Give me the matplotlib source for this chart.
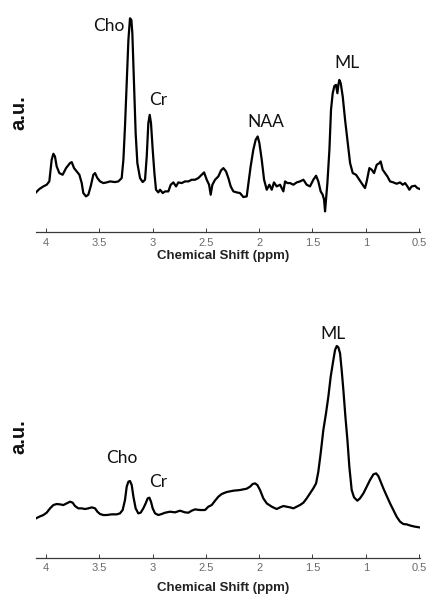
import matplotlib
matplotlib.use("Agg")
import matplotlib.pyplot as plt

# ---- Top spectrum (ppm, a.u.) ----
top_ppm = [4.094, 4.063, 4.025, 3.994, 3.969, 3.947, 3.931, 3.916, 3.900, 3.875,
           3.844, 3.812, 3.775, 3.759, 3.737, 3.712, 3.687, 3.665, 3.650, 3.625,
           3.603, 3.581, 3.556, 3.540, 3.518, 3.493, 3.462, 3.431, 3.399, 3.353,
           3.321, 3.290, 3.274, 3.259, 3.243, 3.227, 3.212, 3.199, 3.190, 3.174,
           3.159, 3.143, 3.118, 3.093, 3.071, 3.055, 3.040, 3.027, 3.015, 2.999,
           2.983, 2.968, 2.946, 2.930, 2.905, 2.883, 2.852, 2.830, 2.805, 2.780,
           2.758, 2.727, 2.696, 2.664, 2.633, 2.602, 2.571, 2.539, 2.517, 2.492,
           2.470, 2.455, 2.439, 2.414, 2.383, 2.358, 2.336, 2.311, 2.289, 2.267,
           2.242, 2.211, 2.180, 2.148, 2.117, 2.101, 2.080, 2.055, 2.033, 2.014,
           1.998, 1.976, 1.954, 1.929, 1.904, 1.882, 1.861, 1.836, 1.804, 1.773,
           1.757, 1.735, 1.710, 1.679, 1.648, 1.617, 1.585, 1.554, 1.523, 1.492,
           1.466, 1.445, 1.423, 1.404, 1.391, 1.382, 1.373, 1.360, 1.341, 1.326,
           1.310, 1.294, 1.279, 1.266, 1.257, 1.248, 1.235, 1.216, 1.194, 1.172,
           1.147, 1.122, 1.091, 1.060, 1.029, 1.007, 0.991, 0.966, 0.944, 0.922,
           0.897, 0.872, 0.860, 0.841, 0.819, 0.797, 0.772, 0.741, 0.710, 0.678,
           0.653, 0.631, 0.609, 0.591, 0.569, 0.537, 0.516, 0.491]
top_au = [0.22, 0.32, 0.40, 0.45, 0.55, 1.20, 1.38, 1.30, 1.00, 0.80,
          0.75, 0.95, 1.10, 1.13, 0.95, 0.85, 0.75, 0.50, 0.20, 0.10,
          0.15, 0.40, 0.75, 0.80, 0.65, 0.55, 0.50, 0.52, 0.55, 0.53,
          0.55, 0.65, 1.20, 2.20, 3.50, 4.80, 5.45, 5.40, 5.00, 3.50,
          2.00, 1.10, 0.65, 0.53, 0.60, 1.30, 2.30, 2.55, 2.30, 1.50,
          0.80, 0.30, 0.22, 0.30, 0.20, 0.25, 0.25, 0.45, 0.52, 0.40,
          0.52, 0.50, 0.55, 0.55, 0.60, 0.60, 0.65, 0.75, 0.82, 0.60,
          0.45, 0.15, 0.45, 0.60, 0.70, 0.88, 0.95, 0.85, 0.65, 0.40,
          0.25, 0.22, 0.20, 0.08, 0.10, 0.50, 1.00, 1.50, 1.80, 1.90,
          1.70, 1.20, 0.60, 0.30, 0.45, 0.30, 0.52, 0.40, 0.45, 0.25,
          0.55, 0.50, 0.50, 0.45, 0.52, 0.55, 0.60, 0.45, 0.40, 0.60,
          0.72, 0.55, 0.25, 0.15, 0.00, -0.35, 0.00, 0.50, 1.50, 2.70,
          3.20, 3.42, 3.45, 3.20, 3.45, 3.60, 3.50, 3.10, 2.40, 1.80,
          1.10, 0.80, 0.75, 0.60, 0.45, 0.35, 0.55, 0.95, 0.90, 0.80,
          1.05, 1.10, 1.15, 0.90, 0.80, 0.70, 0.55, 0.52, 0.48, 0.52,
          0.45, 0.50, 0.40, 0.30, 0.40, 0.42, 0.35, 0.32]

# ---- Bottom spectrum (ppm, a.u.) ----
bot_ppm = [4.094, 4.063, 4.025, 3.994, 3.962, 3.931, 3.900, 3.869, 3.837, 3.806,
           3.775, 3.750, 3.728, 3.697, 3.665, 3.634, 3.603, 3.571, 3.540, 3.518,
           3.493, 3.462, 3.431, 3.384, 3.337, 3.306, 3.281, 3.259, 3.243, 3.227,
           3.212, 3.196, 3.180, 3.159, 3.134, 3.112, 3.087, 3.065, 3.046, 3.030,
           3.015, 2.999, 2.977, 2.946, 2.915, 2.883, 2.836, 2.790, 2.743, 2.696,
           2.664, 2.633, 2.602, 2.555, 2.508, 2.477, 2.445, 2.414, 2.383, 2.352,
           2.305, 2.242, 2.180, 2.117, 2.086, 2.061, 2.039, 2.017, 1.992, 1.961,
           1.929, 1.882, 1.836, 1.804, 1.773, 1.742, 1.710, 1.679, 1.648, 1.617,
           1.585, 1.554, 1.523, 1.492, 1.466, 1.445, 1.423, 1.398, 1.373, 1.351,
           1.329, 1.304, 1.288, 1.272, 1.257, 1.241, 1.226, 1.210, 1.191, 1.172,
           1.154, 1.132, 1.110, 1.079, 1.054, 1.022, 0.991, 0.960, 0.928, 0.903,
           0.882, 0.860, 0.835, 0.803, 0.772, 0.741, 0.710, 0.678, 0.647, 0.616,
           0.578, 0.537, 0.497]
bot_au = [0.15, 0.20, 0.25, 0.32, 0.45, 0.55, 0.58, 0.57, 0.55, 0.60,
          0.65, 0.62, 0.52, 0.45, 0.45, 0.43, 0.45, 0.48, 0.45, 0.35,
          0.28, 0.25, 0.25, 0.27, 0.27, 0.30, 0.40, 0.70, 1.10, 1.25,
          1.27, 1.15, 0.80, 0.45, 0.30, 0.32, 0.45, 0.60, 0.75, 0.77,
          0.65, 0.45, 0.30, 0.25, 0.28, 0.32, 0.35, 0.33, 0.38, 0.33,
          0.32, 0.38, 0.42, 0.40, 0.40, 0.50, 0.55, 0.68, 0.80, 0.88,
          0.94, 0.98, 1.00, 1.04, 1.10, 1.18, 1.20, 1.15, 1.00, 0.75,
          0.60, 0.50, 0.43, 0.48, 0.52, 0.50, 0.48, 0.45, 0.50, 0.55,
          0.62, 0.75, 0.90, 1.05, 1.20, 1.55, 2.10, 2.80, 3.30, 3.80,
          4.40, 4.90, 5.20, 5.32, 5.28, 5.10, 4.60, 4.00, 3.20, 2.50,
          1.70, 1.00, 0.78, 0.68, 0.75, 0.90, 1.10, 1.30, 1.47, 1.50,
          1.42, 1.25, 1.05, 0.82, 0.60, 0.40, 0.20, 0.05, -0.02, -0.03,
          -0.07, -0.10, -0.12]

tick_vals = [4, 3.5, 3, 2.5, 2, 1.5, 1, 0.5]
tick_labels = ["4", "3.5", "3", "2.5", "2", "1.5", "1", "0.5"]

top_labels = ["Cho", "Cr", "NAA", "ML"]
top_label_pos = [(3.415, 5.22), (2.946, 3.00), (1.939, 2.33), (1.172, 4.12)]
bot_labels = ["Cho", "Cr", "ML"]
bot_label_pos = [(3.290, 1.95), (2.946, 1.25), (1.304, 5.67)]

W, H = 428, 598
fig = plt.figure(figsize=(W / 100, H / 100), dpi=100)
fig.patch.set_facecolor("white")


def make_axes(top_px, bottom_px, ppm, au, ylim, labels, label_pos, au_y_px,
              labelpad):
    left_px, right_px = 36, 420
    ax = fig.add_axes([left_px / W, 1 - bottom_px / H,
                       (right_px - left_px) / W, (bottom_px - top_px) / H])
    ax.plot(ppm, au, color="black", lw=1.6, solid_joinstyle="round")
    ax.set_xlim(4.094, 0.491)
    ax.set_ylim(*ylim)
    for s in ["top", "left", "right"]:
        ax.spines[s].set_visible(False)
    ax.spines["bottom"].set_color("#3a3a3a")
    ax.spines["bottom"].set_linewidth(0.9)
    ax.set_yticks([])
    ax.set_xticks(tick_vals)
    ax.set_xticklabels(tick_labels, fontsize=8, color="#6a6a6a",
                       family="Liberation Sans")
    ax.tick_params(axis="x", direction="in", length=3, width=0.7,
                   color="#3a3a3a", pad=4)
    ax.set_xlabel("Chemical Shift (ppm)", fontsize=9.5, fontweight="bold",
                  family="Liberation Sans", color="#222222", labelpad=labelpad)
    ax.xaxis.label.set_x(0.488)
    ax.patch.set_alpha(0)
    for name, (x, y) in zip(labels, label_pos):
        ax.text(x, y, name, ha="center", va="center", fontsize=12.5,
                family="Lato", color="#111111")
    fig.text(19 / W, 1 - au_y_px / H, "a.u.", rotation=90, ha="center",
             va="center", fontsize=14.5, fontweight="bold",
             family="Liberation Sans", color="#111111")
    return ax


make_axes(10, 232, top_ppm, top_au, (-0.97, 5.70), top_labels, top_label_pos,
          113, 1.5)
make_axes(300, 557.7, bot_ppm, bot_au, (-1.03, 6.70), bot_labels, bot_label_pos,
          437, 6)

fig.savefig("out.png", dpi=100, facecolor="white")
